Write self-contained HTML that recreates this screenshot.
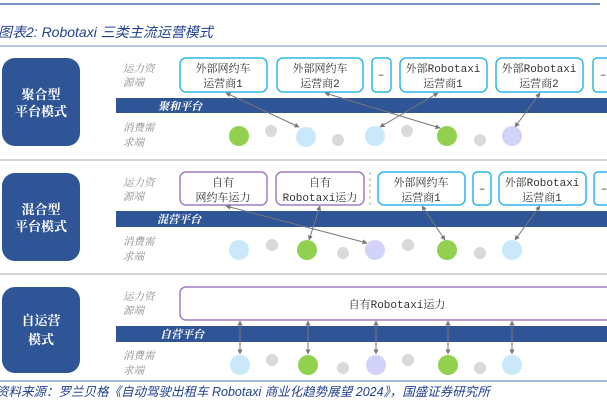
<!DOCTYPE html>
<html><head><meta charset="utf-8"><style>
body{margin:0;background:#fff;width:607px;height:410px;overflow:hidden}
svg text{font-family:"Liberation Serif","Noto Serif CJK SC",serif}
.t{font-family:"Liberation Sans","Noto Sans CJK SC",sans-serif}
.m text{font-family:"Liberation Mono","Noto Serif CJK SC",monospace}
</style></head><body>
<svg width="607" height="410" viewBox="0 0 607 410" xmlns="http://www.w3.org/2000/svg">
<defs>
<marker id="a" viewBox="0 0 10 10" refX="9" refY="5" markerWidth="5" markerHeight="5" orient="auto-start-reverse"><path d="M0,0L10,5L0,10z" fill="#777"/></marker>
</defs>
<line x1="0" y1="4" x2="600" y2="4" stroke="#4a6fb0" stroke-width="1.5"/>
<text x="-2" y="37" font-size="14" font-style="italic" fill="#1f3f8f" class="t">图表2:  Robotaxi 三类主流运营模式</text>
<line x1="0" y1="46" x2="607" y2="46" stroke="#6e8ec8" stroke-width="1"/>
<line x1="0" y1="160" x2="607" y2="160" stroke="#aaa" stroke-width="1"/>
<line x1="0" y1="274" x2="607" y2="274" stroke="#aaa" stroke-width="1"/>
<line x1="0" y1="381" x2="607" y2="381" stroke="#6e8ec8" stroke-width="1.2"/>
<text x="-4" y="396" font-size="12.5" font-style="italic" fill="#1f3f8f" class="t">资料来源：罗兰贝格《自动驾驶出租车 Robotaxi 商业化趋势展望 2024》，国盛证券研究所</text>

<g fill="#2f5597">
<rect x="2" y="58" width="78" height="88" rx="13"/>
<rect x="2" y="173" width="78" height="88" rx="13"/>
<rect x="2" y="287" width="78" height="86" rx="13"/>
<rect x="116" y="98" width="491" height="15"/>
<rect x="116" y="211" width="491" height="16"/>
<rect x="116" y="326" width="491" height="16"/>
</g>
<g fill="#fff" font-size="13" font-weight="bold" text-anchor="middle">
<text x="41" y="99">聚合型</text><text x="41" y="116">平台模式</text>
<text x="41" y="214">混合型</text><text x="41" y="231">平台模式</text>
<text x="41" y="325">自运营</text><text x="41" y="344">模式</text>
</g>
<g fill="#fff" font-size="11" font-weight="bold" font-style="italic">
<text x="158" y="110">聚和平台</text>
<text x="157" y="223">混营平台</text>
<text x="160" y="338">自营平台</text>
</g>
<g fill="#888" font-size="10.5" font-style="italic">
<text x="123" y="72">运力资</text><text x="123" y="86">源端</text>
<text x="123" y="131">消费需</text><text x="123" y="146">求端</text>
<text x="123" y="186">运力资</text><text x="123" y="200">源端</text>
<text x="123" y="245">消费需</text><text x="123" y="260">求端</text>
<text x="123" y="300">运力资</text><text x="123" y="314">源端</text>
<text x="123" y="359">消费需</text><text x="123" y="374">求端</text>
</g>
<g fill="#fff" stroke="#2eb6ea" stroke-width="1.5">
<rect x="180" y="58" width="87" height="34" rx="6"/>
<rect x="277" y="58" width="86" height="34" rx="6"/>
<rect x="372" y="58" width="19" height="34" rx="4"/>
<rect x="400" y="58" width="87" height="34" rx="6"/>
<rect x="496" y="58" width="87" height="34" rx="6"/>
<rect x="593" y="58" width="20" height="34" rx="4"/>
<rect x="378" y="172" width="87" height="33" rx="6"/>
<rect x="473" y="172" width="18" height="33" rx="4"/>
<rect x="499" y="172" width="87" height="33" rx="6"/>
<rect x="594" y="172" width="20" height="33" rx="4"/>
</g>
<g fill="#fff" stroke="#a07cc5" stroke-width="1.5">
<rect x="180" y="172" width="87" height="33" rx="6"/>
<rect x="276" y="172" width="88" height="33" rx="6"/>
<rect x="180" y="287" width="435" height="33" rx="6"/>
</g>
<line x1="370" y1="172" x2="370" y2="206" stroke="#aaa" stroke-dasharray="3,3"/>
<g class="m" font-size="11" fill="#333" text-anchor="middle">
<text x="223" y="72">外部网约车</text><text x="223" y="87">运营商1</text>
<text x="320" y="72">外部网约车</text><text x="320" y="87">运营商2</text>
<text x="381" y="78">–</text>
<text x="443" y="72">外部Robotaxi</text><text x="443" y="87">运营商1</text>
<text x="539" y="72">外部Robotaxi</text><text x="539" y="87">运营商2</text>
<text x="603" y="78">–</text>
<text x="223" y="186">自有</text><text x="223" y="201">网约车运力</text>
<text x="320" y="186">自有</text><text x="320" y="201">Robotaxi运力</text>
<text x="421" y="186">外部网约车</text><text x="421" y="201">运营商1</text>
<text x="482" y="192">–</text>
<text x="542" y="186">外部Robotaxi</text><text x="542" y="201">运营商1</text>
<text x="604" y="192">–</text>
<text x="397" y="308">自有Robotaxi运力</text>
</g>
<g>
<circle cx="239" cy="136" r="10" fill="#92d050"/><circle cx="271" cy="131" r="6" fill="#d9d9d9"/>
<circle cx="306" cy="137" r="10" fill="#c9e9fb"/><circle cx="338" cy="140" r="6" fill="#d9d9d9"/>
<circle cx="375" cy="136" r="10" fill="#c9e9fb"/><circle cx="407" cy="131" r="6" fill="#d9d9d9"/>
<circle cx="447" cy="136" r="10" fill="#92d050"/><circle cx="480" cy="140" r="6" fill="#d9d9d9"/>
<circle cx="512" cy="136" r="10" fill="#d3d3f9"/>

<circle cx="239" cy="250" r="10" fill="#c9e9fb"/><circle cx="272" cy="245" r="6" fill="#d9d9d9"/>
<circle cx="307" cy="250" r="10" fill="#92d050"/><circle cx="343" cy="253" r="6" fill="#d9d9d9"/>
<circle cx="375" cy="250" r="10" fill="#d3d3f9"/><circle cx="408" cy="245" r="6" fill="#d9d9d9"/>
<circle cx="447" cy="250" r="10" fill="#92d050"/><circle cx="480" cy="253" r="6" fill="#d9d9d9"/>
<circle cx="512" cy="250" r="10" fill="#c9e9fb"/>

<circle cx="240" cy="365" r="10" fill="#c9e9fb"/><circle cx="272" cy="360" r="6" fill="#d9d9d9"/>
<circle cx="308" cy="365" r="10" fill="#92d050"/><circle cx="343" cy="368" r="6" fill="#d9d9d9"/>
<circle cx="376" cy="365" r="10" fill="#d3d3f9"/><circle cx="408" cy="360" r="6" fill="#d9d9d9"/>
<circle cx="448" cy="365" r="10" fill="#92d050"/><circle cx="480" cy="368" r="6" fill="#d9d9d9"/>
<circle cx="512" cy="365" r="10" fill="#c9e9fb"/>
</g>
<g stroke="#777" stroke-width="1" marker-start="url(#a)" marker-end="url(#a)">
<line x1="226" y1="93" x2="299" y2="127"/>
<line x1="325" y1="93" x2="440" y2="128"/>
<line x1="438" y1="93" x2="380" y2="127"/>
<line x1="540" y1="93" x2="515" y2="127"/>
<line x1="226" y1="206" x2="367" y2="243"/>
<line x1="320" y1="206" x2="309" y2="240"/>
<line x1="422" y1="206" x2="445" y2="240"/>
<line x1="540" y1="206" x2="515" y2="240"/>
<line x1="240" y1="321" x2="240" y2="354"/>
<line x1="308" y1="321" x2="308" y2="354"/>
<line x1="376" y1="321" x2="376" y2="354"/>
<line x1="448" y1="321" x2="448" y2="354"/>
<line x1="512" y1="321" x2="512" y2="354"/>
</g>
</svg>
</body></html>
